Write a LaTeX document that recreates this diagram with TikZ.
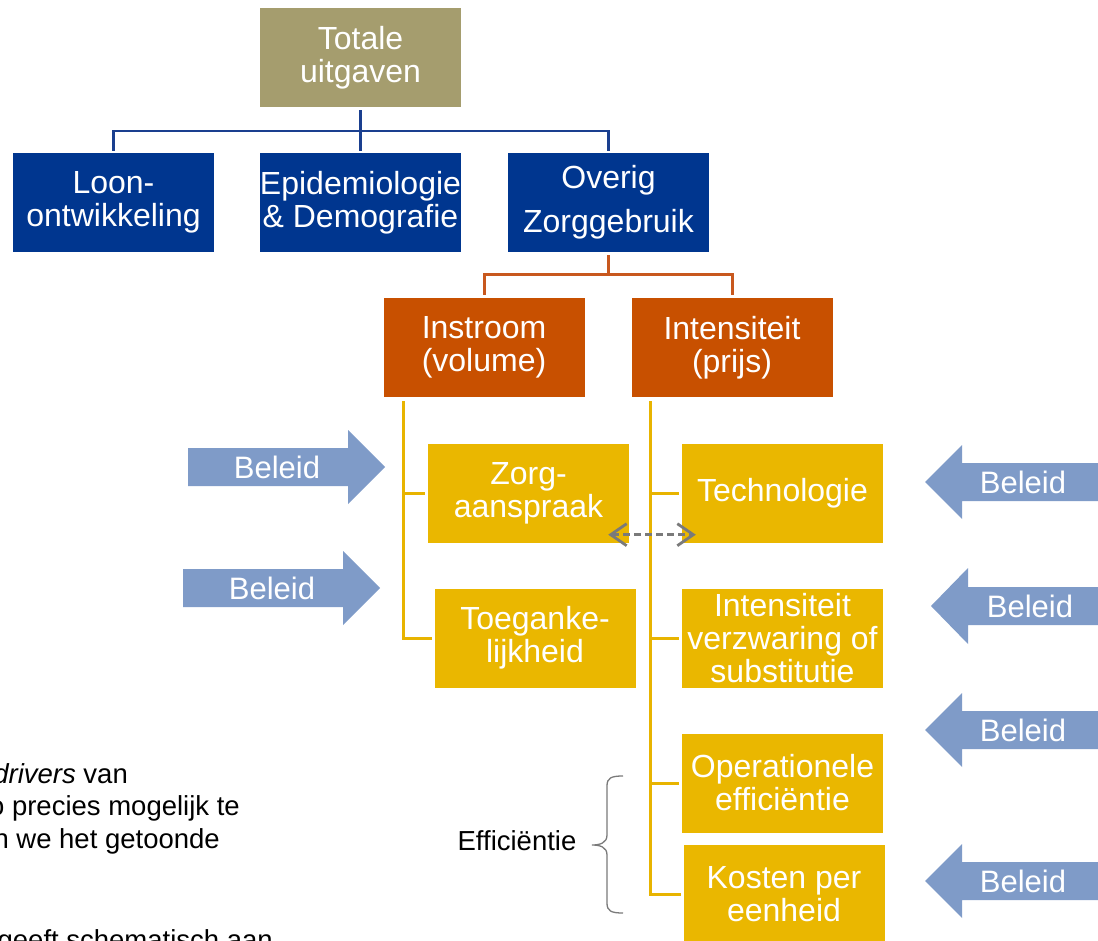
\documentclass[tikz,border=0pt]{standalone}
\usepackage{fontspec}
\setmainfont{Liberation Sans}
\usetikzlibrary{arrows.meta}

\definecolor{tanbox}{HTML}{A59D6E}
\definecolor{navy}{HTML}{00368F}
\definecolor{navyline}{HTML}{1A3F8F}
\definecolor{rust}{HTML}{C85000}
\definecolor{rustline}{HTML}{C8581E}
\definecolor{gold}{HTML}{EAB700}
\definecolor{goldline}{HTML}{E8B400}
\definecolor{policy}{HTML}{7F9BC8}
\definecolor{note}{HTML}{7A7A7A}

\tikzset{
  chartbox/.style={minimum width=201pt, minimum height=99pt, inner sep=0pt,
    align=center, text=white, font=\fontsize{32}{33}\selectfont},
  topbox/.style={chartbox, fill=tanbox},
  bluebox/.style={chartbox, fill=navy},
  rustbox/.style={chartbox, fill=rust},
  goldbox/.style={chartbox, fill=gold},
  bluelink/.style={draw=navyline, line width=2.5pt},
  rustlink/.style={draw=rustline, line width=3pt},
  goldlink/.style={draw=goldline, line width=3pt},
  policyarrow/.style={fill=policy},
  policytext/.style={text=white, inner sep=0pt, font=\fontsize{31}{33}\selectfont},
  bodytext/.style={text=black, inner sep=0pt, font=\fontsize{27.5}{33}\selectfont},
  tradeoff/.style={draw=note, line width=2.8pt, dash pattern=on 7pt off 4pt,
    {Straight Barb[length=16pt,width=22pt]}-{Straight Barb[length=16pt,width=22pt]}},
  bracket/.style={draw=note, line width=1.3pt},
}

\begin{document}
\begin{tikzpicture}[x=1pt, y=-1pt]
\useasboundingbox (0,0) rectangle (1098,941);
\clip (0,0) rectangle (1098,941);

% --- tree of expenditure drivers ---
\node[topbox]  (total)    at (360.5,57.5)  {Totale\\uitgaven};
\node[bluebox] (loon)     at (113.5,202.5) {Loon-\\ontwikkeling};
\node[bluebox] (epi)      at (360.5,202.5) {Epidemiologie\\\& Demografie};
\node[bluebox, font=\fontsize{32}{44}\selectfont] (overig) at (608.5,202.5) {Overig\\Zorggebruik};

\node[rustbox] (instroom) at (484,347.5) {Instroom\\(volume)};
\node[rustbox] (intens)   at (732,347.5) {Intensiteit\\(prijs)};

\node[goldbox] (zorg)  at (528.5,493) {Zorg-\\aanspraak};
\node[goldbox] (toeg)  at (535,638)   {Toeganke-\\lijkheid};
\node[goldbox] (tech)  at (782.5,493) {Technologie};
\node[goldbox] (verzw) at (782.5,638) {Intensiteit\\verzwaring of\\substitutie};
\node[goldbox] (oper)  at (782.5,783) {Operationele\\efficiëntie};
\node[goldbox] (kost)  at (784,894.5) {Kosten per\\eenheid};

% first level
\coordinate (hub) at (360.5,131);
\draw[bluelink] ([yshift=-3pt]total.south) -- (hub);
\draw[bluelink] ([yshift=2pt]loon.north) |- (hub) -| ([yshift=2pt]overig.north);
\draw[bluelink] (hub) -- ([yshift=2pt]epi.north);

% second level
\coordinate (rhub) at (608.5,275);
\draw[rustlink] ([yshift=-3pt]overig.south) -- (rhub);
\draw[rustlink] ([yshift=3pt]instroom.north) |- (rhub) -| ([yshift=3pt]intens.north);

% third level: volume side
\coordinate (ls) at ([xshift=20pt,yshift=-4pt]instroom.south west);
\draw[goldlink] (ls) |- ([xshift=-2pt]toeg.west);
\draw[goldlink] (ls |- zorg.west) -- ([xshift=-3pt]zorg.west);

% third level: price side
\coordinate (rs) at ([xshift=19pt,yshift=-4pt]intens.south west);
\draw[goldlink] (rs) |- ([xshift=-2pt]kost.west);
\draw[goldlink] (rs |- tech.west)  -- ([xshift=-3pt]tech.west);
\draw[goldlink] (rs |- verzw.west) -- ([xshift=-3pt]verzw.west);
\draw[goldlink] (rs |- oper.west)  -- ([xshift=-3pt]oper.west);

% interaction between claims and technology
\draw[tradeoff] ([xshift=-21pt,yshift=8pt]zorg.south east) -- ([xshift=14pt,yshift=8pt]tech.south west);

% --- policy arrows ---
\fill[policyarrow] (188,448) -- (348,448) -- (348,430) -- (385,467) -- (348,504) -- (348,486) -- (188,486) -- cycle;
\node[policytext] (pol1) at (277,467) {Beleid};
\fill[policyarrow] (183,569) -- (343,569) -- (343,551) -- (380,588) -- (343,625) -- (343,607) -- (183,607) -- cycle;
\node[policytext] (pol2) at (272,588) {Beleid};

\fill[policyarrow] (1100,463) -- (962,463) -- (962,445) -- (925,482) -- (962,519) -- (962,501) -- (1100,501) -- cycle;
\node[policytext] (pol3) at (1023,482) {Beleid};
\fill[policyarrow] (1100,587) -- (968,587) -- (968,568) -- (931,606) -- (968,644) -- (968,625) -- (1100,625) -- cycle;
\node[policytext] (pol4) at (1030,606) {Beleid};
\fill[policyarrow] (1100,711) -- (962,711) -- (962,693) -- (925,730) -- (962,767) -- (962,749) -- (1100,749) -- cycle;
\node[policytext] (pol5) at (1023,730) {Beleid};
\fill[policyarrow] (1100,862) -- (962,862) -- (962,844) -- (925,881) -- (962,918) -- (962,900) -- (1100,900) -- cycle;
\node[policytext] (pol6) at (1023,881) {Beleid};

% --- efficiency bracket ---
\node[bodytext, anchor=base] (eff) at (517,850) {Efficiëntie};
\draw[bracket] (623,776) .. controls (611,776) and (607,778) .. (607,786)
  -- (607,835) .. controls (607,843) and (600,845) .. (592,845)
  .. controls (600,845) and (607,847) .. (607,855)
  -- (607,903) .. controls (607,911) and (611,913) .. (623,913);

% --- running text on the left ---
\node[bodytext, anchor=base east] (txt1) at (128,783) {\textit{drivers} van};
\node[bodytext, anchor=base east] (txt2) at (240,815) {o precies mogelijk te};
\node[bodytext, anchor=base east] (txt3) at (220,848) {n we het getoonde};
\node[bodytext, anchor=base east] (txt4) at (273,949) {geeft schematisch aan};
\end{tikzpicture}
\end{document}
